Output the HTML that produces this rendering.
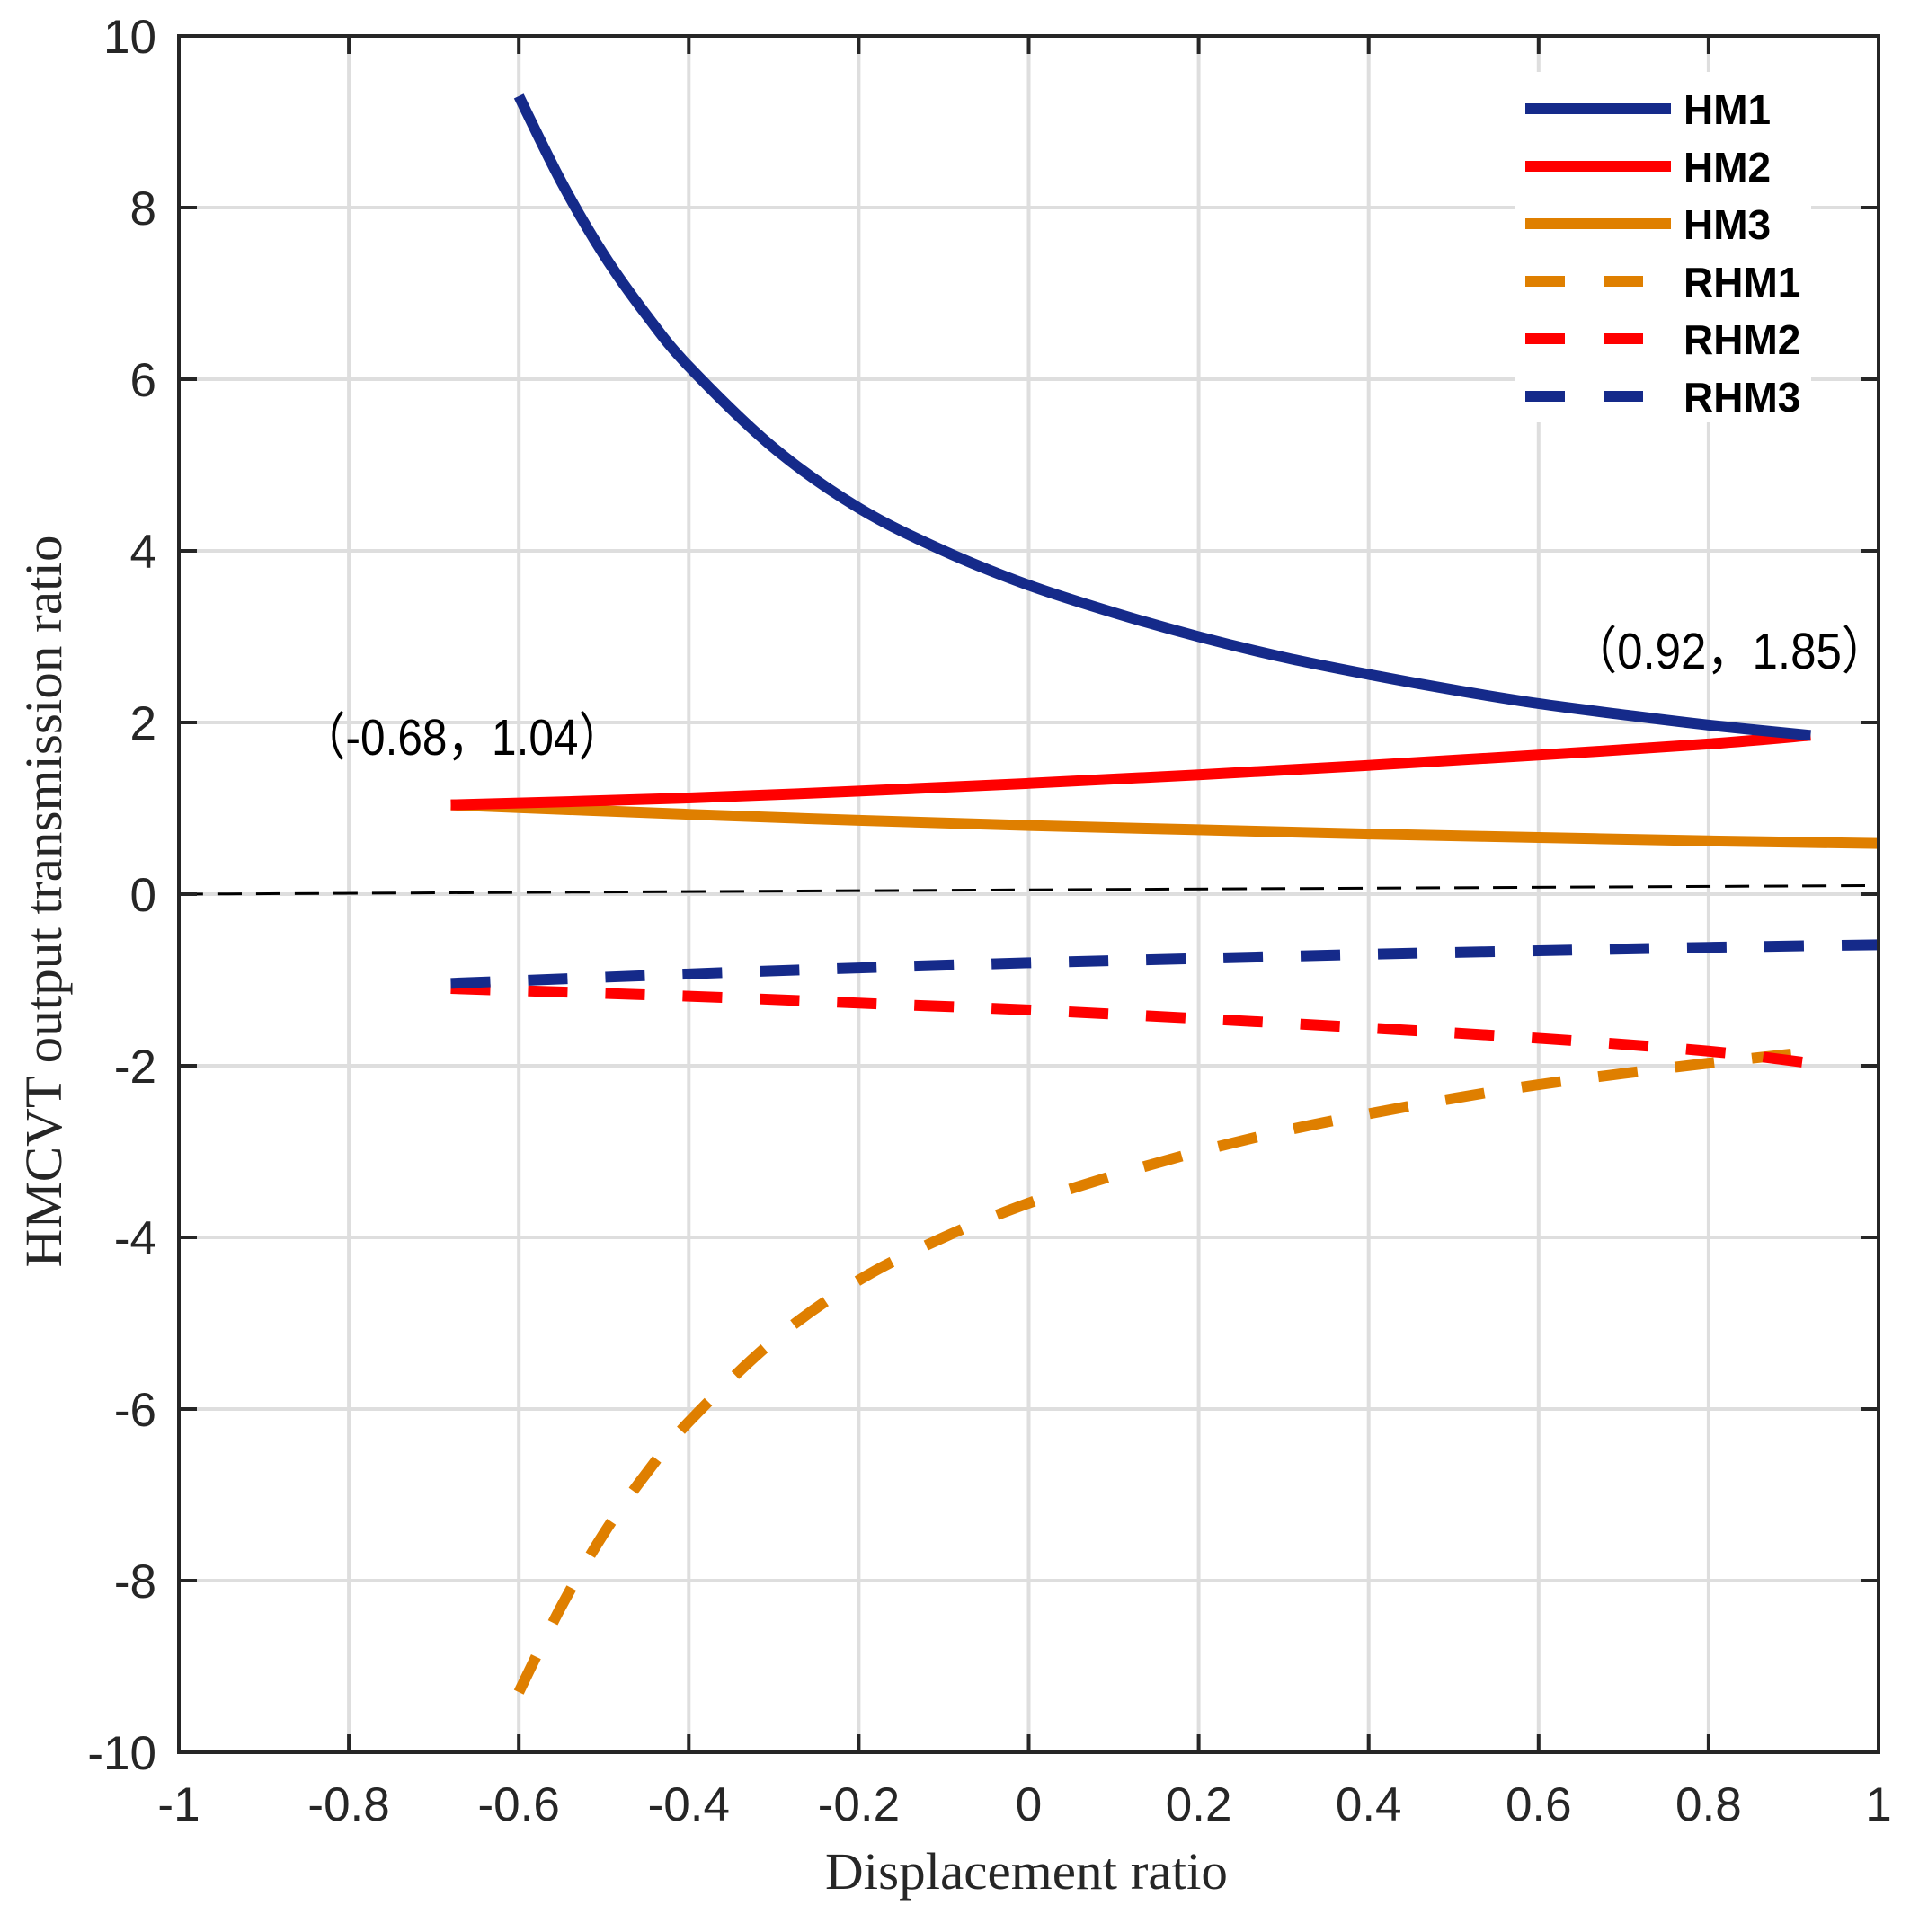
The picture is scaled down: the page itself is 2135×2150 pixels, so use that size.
<!DOCTYPE html>
<html><head><meta charset="utf-8"><style>
html,body{margin:0;padding:0;background:#fff;}
svg{display:block;}
</style></head><body>
<svg id="chart" width="2135" height="2150" xmlns="http://www.w3.org/2000/svg">
<rect width="2135" height="2150" fill="#fff"/>
<g id="grid"></g>
<g id="series"></g>
<g id="axes"></g>
<g id="legend"></g>
<text x="335" y="840" font-family="'Liberation Sans','Noto Sans CJK SC',sans-serif" font-size="57" fill="#000" textLength="358" lengthAdjust="spacingAndGlyphs">（-0.68，1.04）</text>
<text x="1748" y="744" font-family="'Liberation Sans','Noto Sans CJK SC',sans-serif" font-size="57" fill="#000" textLength="352" lengthAdjust="spacingAndGlyphs">（0.92，1.85）</text>
<text x="1142" y="2102" text-anchor="middle" font-family="'Liberation Serif',serif" font-size="58" fill="#262626" textLength="448" lengthAdjust="spacingAndGlyphs">Displacement ratio</text>
<text transform="translate(68,1003) rotate(-90)" text-anchor="middle" font-family="'Liberation Serif',serif" font-size="58" fill="#262626" textLength="815" lengthAdjust="spacingAndGlyphs">HMCVT output transmission ratio</text>
</svg>
<script>
const xTicks = [-1,-0.8,-0.6,-0.4,-0.2,0,0.2,0.4,0.6,0.8,1];
const xTickLabels = ["-1","-0.8","-0.6","-0.4","-0.2","0","0.2","0.4","0.6","0.8","1"];
const yTicks = [-10,-8,-6,-4,-2,0,2,4,6,8,10];
const yTickLabels = ["-10","-8","-6","-4","-2","0","2","4","6","8","10"];

const hm1X = [-0.6,-0.55,-0.5,-0.45,-0.4,-0.3,-0.2,-0.1,0,0.1,0.2,0.3,0.4,0.5,0.6,0.7,0.8,0.92];
const hm1Y = [9.3,8.3,7.45,6.75,6.15,5.2,4.5,4.0,3.6,3.28,3.0,2.76,2.56,2.38,2.22,2.09,1.97,1.85];
const hm2X = [-0.68,-0.4,-0.2,0,0.2,0.4,0.6,0.8,0.92];
const hm2Y = [1.04,1.12,1.2,1.29,1.39,1.5,1.62,1.75,1.85];
const hm3X = [-0.68,-0.4,-0.2,0,0.2,0.4,0.6,0.8,1];
const hm3Y = [1.04,0.93,0.86,0.8,0.75,0.7,0.66,0.62,0.59];
const rhm1X = [-0.6,-0.55,-0.5,-0.45,-0.4,-0.3,-0.2,-0.1,0,0.1,0.2,0.3,0.4,0.5,0.6,0.7,0.8,0.9];
const rhm1Y = [-9.3,-8.3,-7.45,-6.75,-6.15,-5.2,-4.5,-4.0,-3.6,-3.28,-3.0,-2.76,-2.56,-2.38,-2.22,-2.09,-1.97,-1.86];
const rhm2X = [-0.68,-0.4,-0.2,0,0.2,0.4,0.6,0.8,0.92];
const rhm2Y = [-1.1,-1.19,-1.27,-1.35,-1.45,-1.56,-1.68,-1.83,-1.97];
const rhm3X = [-0.68,-0.4,-0.2,0,0.2,0.4,0.6,0.8,1];
const rhm3Y = [-1.04,-0.93,-0.86,-0.8,-0.75,-0.7,-0.66,-0.62,-0.59];
const refX = [-1,1];
const refY = [0,0.1];

const L=199,R=2090,T=40,B=1950;
const xs = v => L + (v+1)/2*(R-L);
const ys = v => B - (v+10)/20*(B-T);
const NS="http://www.w3.org/2000/svg";
function mk(tag, attrs, parent){
  const e=document.createElementNS(NS,tag);
  for(const k in attrs) e.setAttribute(k,attrs[k]);
  parent.appendChild(e); return e;
}
const grid=document.getElementById('grid');
const axes=document.getElementById('axes');
const series=document.getElementById('series');
const legend=document.getElementById('legend');

xTicks.forEach((t,i)=>{
  const x=xs(t);
  if(i>0&&i<xTicks.length-1){
    const g=mk('line',{x1:x,x2:x,y1:T,y2:B,stroke:'#dedede','stroke-width':4},grid);
    
    
  }
  const t1=mk('line',{x1:x,x2:x,y1:B,y2:B-20,stroke:'#262626','stroke-width':4},axes);
  
  
  const t2=mk('line',{x1:x,x2:x,y1:T,y2:T+20,stroke:'#262626','stroke-width':4},axes);
  
  
  const lb=mk('text',{x:x,y:2026,'text-anchor':'middle','font-family':'Liberation Sans, sans-serif','font-size':53,fill:'#262626'},axes);
  lb.textContent=xTickLabels[i];
  
  
});
yTicks.forEach((t,i)=>{
  const y=ys(t);
  if(i>0&&i<yTicks.length-1){
    const g=mk('line',{x1:L,x2:R,y1:y,y2:y,stroke:'#dedede','stroke-width':4},grid);
    
    
  }
  const t1=mk('line',{x1:L,x2:L+20,y1:y,y2:y,stroke:'#262626','stroke-width':4},axes);
  
  
  const t2=mk('line',{x1:R,x2:R-20,y1:y,y2:y,stroke:'#262626','stroke-width':4},axes);
  
  
  const lb=mk('text',{x:174,y:y+19,'text-anchor':'end','font-family':'Liberation Sans, sans-serif','font-size':53,fill:'#262626'},axes);
  lb.textContent=yTickLabels[i];
  
  
});
const frame=mk('rect',{x:L,y:T,width:R-L,height:B-T,fill:'none',stroke:'#262626','stroke-width':4},axes);



function smoothPath(X,Y){
  const p=X.map((x,i)=>[xs(x),ys(Y[i])]);
  let d='M'+p[0][0]+','+p[0][1];
  for(let i=0;i<p.length-1;i++){
    const p0=p[Math.max(0,i-1)],p1=p[i],p2=p[i+1],p3=p[Math.min(p.length-1,i+2)];
    const c1=[p1[0]+(p2[0]-p0[0])/6,p1[1]+(p2[1]-p0[1])/6];
    const c2=[p2[0]-(p3[0]-p1[0])/6,p2[1]-(p3[1]-p1[1])/6];
    d+=' C'+c1[0]+','+c1[1]+' '+c2[0]+','+c2[1]+' '+p2[0]+','+p2[1];
  }
  return d;
}
const ref=mk('path',{d:smoothPath(refX,refY),fill:'none',stroke:'#000','stroke-width':3,'stroke-dasharray':'27,16'},series);



const BLUE='#152a8a',RED='#ff0000',ORANGE='#df7f00';
const defs=[
 ['RHM1',rhm1X,rhm1Y,ORANGE,true,'series-rhm1'],
 ['RHM2',rhm2X,rhm2Y,RED,true,'series-rhm2'],
 ['RHM3',rhm3X,rhm3Y,BLUE,true,'series-rhm3'],
 ['HM3',hm3X,hm3Y,ORANGE,false,'series-hm3'],
 ['HM2',hm2X,hm2Y,RED,false,'series-hm2'],
 ['HM1',hm1X,hm1Y,BLUE,false,'series-hm1'],
];
defs.forEach(s=>{
  const a={d:smoothPath(s[1],s[2]),fill:'none',stroke:s[3],'stroke-width':12};
  if(s[4]) a['stroke-dasharray']='44,42';
  const e=mk('path',a,series);
  
  
});

const lbg=mk('rect',{x:1685,y:80,width:330,height:390,fill:'#fff'},legend);


const legItems=[['HM1',BLUE,false],['HM2',RED,false],['HM3',ORANGE,false],['RHM1',ORANGE,true],['RHM2',RED,true],['RHM3',BLUE,true]];
legItems.forEach((it,i)=>{
  const y=121+i*64;
  const a={x1:1697,x2:1859,y1:y,y2:y,stroke:it[1],'stroke-width':12};
  if(it[2]) a['stroke-dasharray']='44,43';
  const ln=mk('line',a,legend);
  
  
  const tx=mk('text',{x:1873,y:y+17,'font-family':'Liberation Sans, sans-serif','font-size':46,'font-weight':'bold',fill:'#000'},legend);
  tx.textContent=it[0];
  
  
});
</script>
</body></html>
